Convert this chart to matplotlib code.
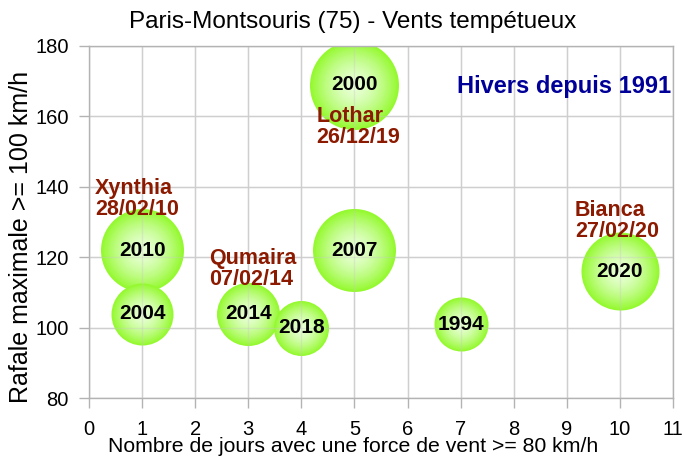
import numpy as np
import matplotlib.pyplot as plt
from matplotlib.colors import to_rgb

# Données
annees = ['2010', '2004', '2014', '2018', '2000', '2007', '1994', '2020']
jours = [1, 1, 3, 4, 5, 5, 7, 10]
rafales = [122, 104, 104, 100, 169, 122, 101, 116]
bulles = [83, 62, 63, 55, 89, 83, 54, 78]  # taille relative des bulles

xticks = list(range(0, 12))
yticks = [80, 100, 120, 140, 160, 180]

police = ['Liberation Sans', 'DejaVu Sans']

fig = plt.figure(figsize=(6.84, 4.57), dpi=100)
ax = fig.add_axes([89 / 684, 1 - 398 / 457, (673 - 89) / 684, (398 - 46) / 457])
ax.set_xlim(0, 11)
ax.set_ylim(80, 180)
ax.set_xticks(xticks)
ax.set_yticks(yticks)
ax.grid(True, color='#d4d4d4', linewidth=1.0, zorder=0)
ax.set_axisbelow(True)
for sp in ax.spines.values():
    sp.set_color('#b3b3b3')
    sp.set_linewidth(1.0)
ax.tick_params(length=7.5, width=1.0, color='#b3b3b3', labelsize=14.5)
ax.tick_params(axis='x', pad=8.5)
ax.tick_params(axis='y', pad=7)
for lab in ax.get_xticklabels() + ax.get_yticklabels():
    lab.set_family(police)

# bulles avec dégradé radial
bord = np.array(to_rgb('#94f92e'))
centre = np.array(to_rgb('#e8ffd6'))
n = 30
for x, y, d in zip(jours, rafales, bulles):
    for k in range(n):
        f = 1 - k / n
        c = centre + (bord - centre) * f ** 1.6
        ax.scatter([x], [y], s=(d * f * 0.72) ** 2, color=c, linewidths=0, zorder=2)

# grille légèrement visible à travers les bulles
ax.vlines(xticks, 80, 180, color='#c8c8c8', linewidth=1.0, alpha=0.35, zorder=2.5)
ax.hlines(yticks, 0, 11, color='#c8c8c8', linewidth=1.0, alpha=0.35, zorder=2.5)

for x, y, a in zip(jours, rafales, annees):
    ax.text(x, y, a, ha='center', va='center', fontsize=15, fontweight='bold',
            family=police, color='black', zorder=4)

rouge = '#8b1a00'
ax.text(0.11, 136.5, 'Xynthia\n28/02/10', ha='left', va='center', fontsize=15.5,
        fontweight='bold', family=police, color=rouge, linespacing=1.0, zorder=4)
ax.text(2.26, 116.6, 'Qumaira\n07/02/14', ha='left', va='center', fontsize=15.5,
        fontweight='bold', family=police, color=rouge, linespacing=1.0, zorder=4)
ax.text(4.28, 157.0, 'Lothar\n26/12/19', ha='left', va='center', fontsize=15.5,
        fontweight='bold', family=police, color=rouge, linespacing=1.0, zorder=4)
ax.text(9.15, 130.3, 'Bianca\n27/02/20', ha='left', va='center', fontsize=15.5,
        fontweight='bold', family=police, color=rouge, linespacing=1.0, zorder=4)
ax.text(6.94, 168.6, 'Hivers depuis 1991', ha='left', va='center', fontsize=17,
        fontweight='bold', family=police, color='#000099', zorder=4)

fig.text(353 / 684, 1 - 22 / 457, 'Paris-Montsouris (75) - Vents tempétueux',
         ha='center', va='center', fontsize=17.5, family=police)
fig.text(353 / 684, 1 - 447 / 457, 'Nombre de jours avec une force de vent >= 80 km/h',
         ha='center', va='center', fontsize=15.3, family=police)
fig.text(21 / 684, 1 - 237 / 457, 'Rafale maximale >= 100 km/h', rotation=90,
         ha='center', va='center', fontsize=18, family=police)

fig.savefig('out.png', dpi=100)
